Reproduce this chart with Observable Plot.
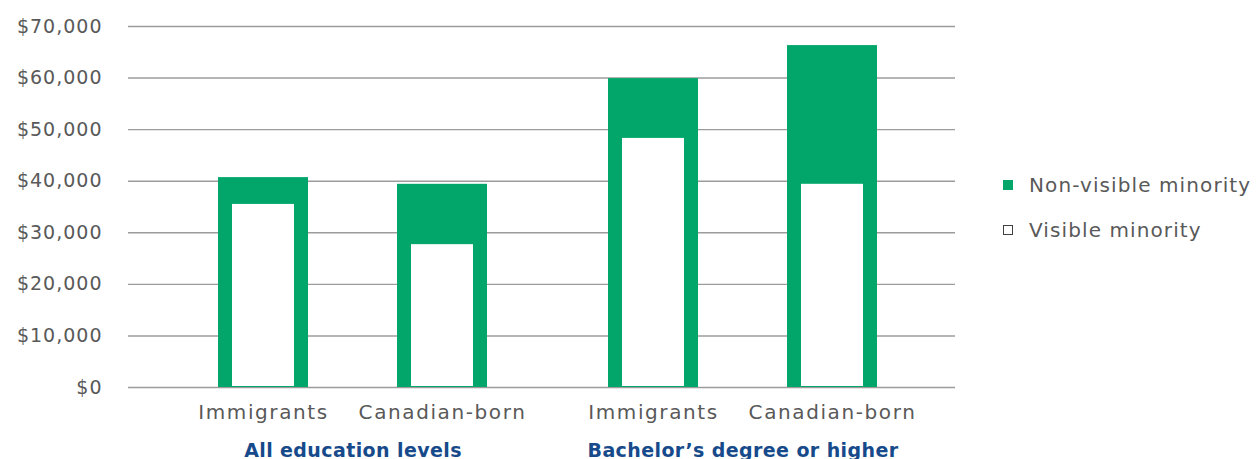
<!DOCTYPE html>
<html>
<head>
<meta charset="utf-8">
<script src="https://cdn.jsdelivr.net/npm/d3@7"></script>
<script src="https://cdn.jsdelivr.net/npm/@observablehq/plot@0.6"></script>
<style>
  body { margin: 0; background: #fff; }
  #wrap { position: relative; width: 1256px; height: 459px; font-family: "DejaVu Sans", sans-serif; }
  #wrap svg { position: absolute; left: 0; top: 0; background: transparent; }
  .legend { position: absolute; left: 1003px; font-size: 20px; letter-spacing: 1.1px; color: #595959; display: flex; align-items: center; white-space: nowrap; line-height: 24px; }
  .sw { width: 10px; height: 10px; box-sizing: border-box; margin-right: 16px; }
  .xlab text { letter-spacing: 1.6px; }
  .ylab text { letter-spacing: 1px; }
  .fxlab text { letter-spacing: 0.4px; }
</style>
</head>
<body>
<div id="wrap"></div>
<script>
// Data
const groups = ["All education levels", "All education levels", "Bachelor’s degree or higher", "Bachelor’s degree or higher"];
const births = ["Immigrants", "Canadian-born", "Immigrants", "Canadian-born"];
const nonVisibleMinority = [40700, 39400, 59900, 66300];
const visibleMinority = [35500, 27700, 48300, 39400];
const yTicks = [0, 10000, 20000, 30000, 40000, 50000, 60000, 70000];
const seriesNames = ["Non-visible minority", "Visible minority"];

const groupDomain = ["All education levels", "Bachelor’s degree or higher"];
const birthDomain = ["Immigrants", "Canadian-born"];
const green = "#02a66a";

const data = groups.map((g, i) => ({
  group: g, birth: births[i], nonVisible: nonVisibleMinority[i], visible: visibleMinority[i]
}));

const common = {
  width: 1256, height: 459,
  marginLeft: 128, marginRight: 301, marginTop: 26, marginBottom: 72,
  style: { fontFamily: "'DejaVu Sans', sans-serif", background: "transparent", overflow: "visible" }
};

// Bottom layer: y axis and grid
const base = Plot.plot({
  ...common,
  y: { domain: [0, 70000] },
  marks: [
    Plot.gridY(yTicks, { stroke: "#9c9c9c", strokeOpacity: 1, strokeWidth: 1.4 }),
    Plot.axisY(yTicks, {
      className: "ylab",
      tickSize: 0, tickPadding: 26, fontSize: 19, fill: "#595959",
      tickFormat: d3.format("$,"), label: null
    })
  ]
});

// Top layer: faceted bars
const bars = Plot.plot({
  ...common,
  y: { domain: [0, 70000], axis: null },
  fx: { domain: groupDomain, paddingInner: 0.0793, paddingOuter: 0.0972, align: 0.579, label: null },
  x: { domain: birthDomain, paddingInner: 0.5, paddingOuter: 0.25, label: null },
  marks: [
    Plot.barY(data, { fx: "group", x: "birth", y: "nonVisible", fill: green }),
    Plot.barY(data, { fx: "group", x: "birth", y: "visible", fill: "#ffffff", insetLeft: 14, insetRight: 14, insetBottom: 1 }),
    Plot.axisX({ className: "xlab", tickSize: 0, tickPadding: 17, fontSize: 20, fill: "#595959", label: null }),
    Plot.axisFx({ className: "fxlab", anchor: "bottom", tickSize: 0, tickPadding: 56, fontSize: 19, fontWeight: "bold", fill: "#164a8a", label: null })
  ]
});

const wrap = document.getElementById("wrap");
wrap.appendChild(base);
wrap.appendChild(bars);

// Legend
const legendTops = [173, 218];
seriesNames.forEach((name, i) => {
  const item = document.createElement("div");
  item.className = "legend";
  item.style.top = legendTops[i] + "px";
  const sw = document.createElement("span");
  sw.className = "sw";
  if (i === 0) { sw.style.background = green; }
  else { sw.style.border = "1.3px solid #404040"; sw.style.background = "#fff"; }
  const t = document.createElement("span");
  t.textContent = name;
  item.appendChild(sw);
  item.appendChild(t);
  wrap.appendChild(item);
});
</script>
</body>
</html>
